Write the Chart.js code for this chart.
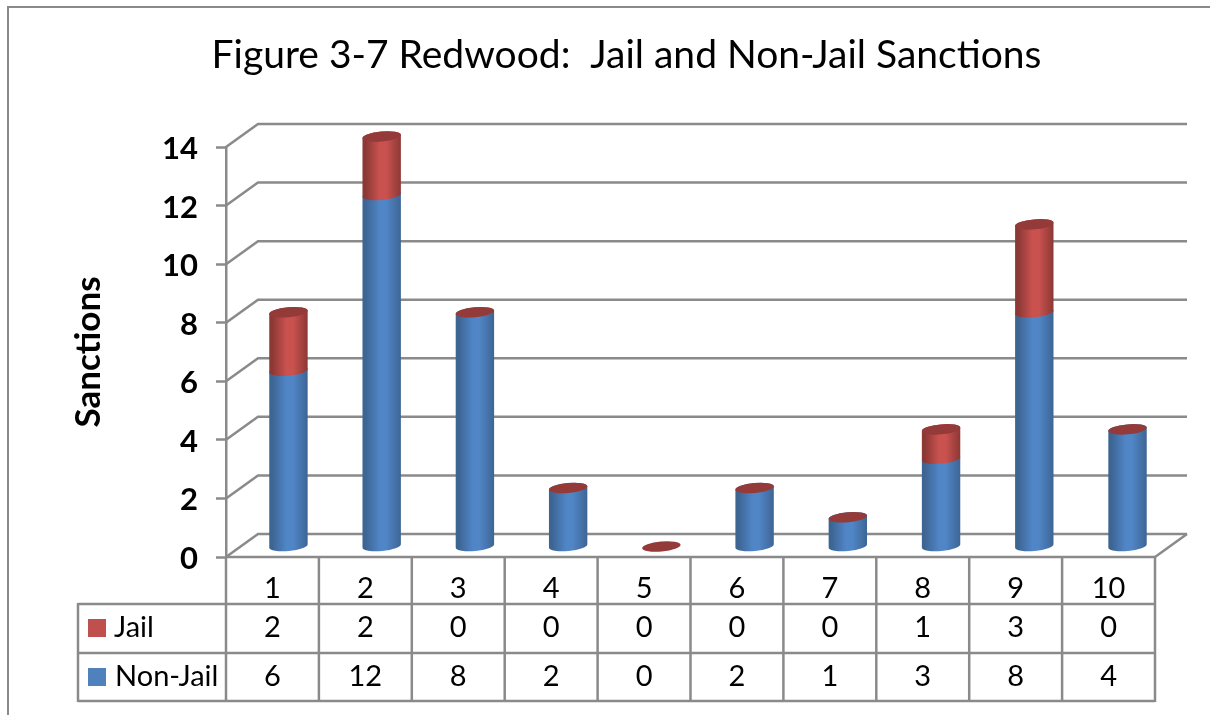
<!DOCTYPE html>
<html>
<head>
<meta charset="utf-8">
<title>Redwood sanctions</title>
<script src="https://cdn.jsdelivr.net/npm/chart.js@4/dist/chart.umd.min.js"></script>
<style>
  html, body { margin: 0; padding: 0; background: #fff; overflow: hidden; }
  canvas { display: block; }
</style>
</head>
<body>
<canvas id="sanctionsChart" width="1210" height="715"></canvas>
<script>
const categories = ['1', '2', '3', '4', '5', '6', '7', '8', '9', '10'];
const nonJail = [6, 12, 8, 2, 0, 2, 1, 3, 8, 4];
const jail = [2, 2, 0, 0, 0, 0, 0, 1, 3, 0];
const yTicks = [0, 2, 4, 6, 8, 10, 12, 14];

const LINE = '#8a8a8a';
const LINE_WIDTH = 2.5;
const FONT = 'Lato, "Noto Sans", sans-serif';

// depth of the floor and side wall
const DEPTH_X = 32;
const DEPTH_Y = -23;

// where the cylinders stand on the floor
const BAR_SHIFT_X = 16;
const BAR_SHIFT_Y = -10.5;
const BAR_DRIFT_X = 0.33;

// shading of the two cylinder colours, edge to centre
const SHADES = {
    'Non-Jail': { edge: '#3d6594', mid: '#5085c6' },
    'Jail': { edge: '#8c3835', mid: '#c9524f' }
};
const CAP_COLOR = '#943a38';
const CAP_TILT = -0.09;
const CAP_RY = 5;

function strokeLine(ctx, x1, y1, x2, y2) {
    ctx.beginPath();
    ctx.moveTo(x1, y1);
    ctx.lineTo(x2, y2);
    ctx.stroke();
}

// outer frame of the chart, only top and left are visible
const framePlugin = {
    id: 'frame',
    beforeDraw(chart) {
        const ctx = chart.ctx;
        ctx.save();
        ctx.fillStyle = '#fff';
        ctx.fillRect(0, 0, chart.width, chart.height);
        ctx.strokeStyle = LINE;
        ctx.lineWidth = 2;
        strokeLine(ctx, 8, 715, 8, 7);
        strokeLine(ctx, 7, 7, 1210, 7);
        ctx.restore();
    }
};

// the title is centred on the whole frame, not on the plot and its margin
const titleCentrePlugin = {
    id: 'titleCentre',
    afterLayout(chart) {
        chart.titleBlock.left = 43;
        chart.titleBlock.right = chart.width;
    }
};

// back wall, side wall and floor lines
const wallsPlugin = {
    id: 'walls',
    beforeDatasetsDraw(chart) {
        const ctx = chart.ctx;
        const { left, right, bottom } = chart.chartArea;
        const y = chart.scales.y;
        ctx.save();
        ctx.strokeStyle = LINE;
        ctx.lineWidth = LINE_WIDTH;
        yTicks.forEach(v => {
            const py = y.getPixelForValue(v);
            ctx.beginPath();
            ctx.moveTo(left, py);
            ctx.lineTo(left + DEPTH_X, py + DEPTH_Y);
            ctx.lineTo(right + DEPTH_X, py + DEPTH_Y);
            ctx.stroke();
        });
        strokeLine(ctx, left, bottom, right, bottom);
        strokeLine(ctx, right, bottom, right + DEPTH_X, bottom + DEPTH_Y);
        ctx.restore();
    }
};

// data table under the x axis, with the legend keys in its first column
const tablePlugin = {
    id: 'dataTable',
    afterDraw(chart) {
        const ctx = chart.ctx;
        const x = chart.scales.x;
        const { left, right, bottom } = chart.chartArea;
        const rowTops = [604, 653, 701];
        const tableLeft = 78;
        const step = (right - left) / categories.length;
        ctx.save();
        ctx.strokeStyle = LINE;
        ctx.lineWidth = LINE_WIDTH;
        rowTops.forEach(py => strokeLine(ctx, tableLeft, py, right, py));
        strokeLine(ctx, tableLeft, rowTops[0] - 1, tableLeft, rowTops[2] + 1);
        for (let i = 0; i <= categories.length; i++) {
            strokeLine(ctx, left + i * step, bottom, left + i * step, rowTops[2] + 1);
        }

        const rows = [
            { dataset: chart.data.datasets[1], values: jail, y: 628, textX: 114 },
            { dataset: chart.data.datasets[0], values: nonJail, y: 677, textX: 115 }
        ];
        ctx.font = '29px ' + FONT;
        ctx.fillStyle = '#000';
        ctx.textBaseline = 'middle';
        rows.forEach(row => {
            ctx.fillStyle = row.dataset.backgroundColor;
            ctx.fillRect(88, row.y - 9, 18, 18);
            ctx.fillStyle = '#000';
            ctx.textAlign = 'left';
            ctx.fillText(row.dataset.label, row.textX, row.y);
            ctx.textAlign = 'center';
            row.values.forEach((v, i) => ctx.fillText(String(v), x.getPixelForTick(i), row.y));
        });
        ctx.restore();
    }
};

// body of one cylinder between two value pixels, shifted back onto the floor
function drawCylinder(ctx, bar, i, shade) {
    const cx = bar.x + BAR_SHIFT_X + i * BAR_DRIFT_X;
    const rx = bar.width / 2;
    const top = bar.y + BAR_SHIFT_Y;
    const bottom = bar.base + BAR_SHIFT_Y;
    if (bottom - top < 0.5) return;
    const grad = ctx.createLinearGradient(cx - rx, 0, cx + rx, 0);
    grad.addColorStop(0, shade.edge);
    grad.addColorStop(0.08, shade.edge);
    grad.addColorStop(0.45, shade.mid);
    grad.addColorStop(0.62, shade.mid);
    grad.addColorStop(1, shade.edge);
    ctx.beginPath();
    ctx.ellipse(cx, bottom, rx, CAP_RY, CAP_TILT, 0, Math.PI);
    ctx.ellipse(cx, top, rx, CAP_RY, CAP_TILT, Math.PI, Math.PI * 2);
    ctx.closePath();
    ctx.fillStyle = grad;
    ctx.fill();
}

function drawCap(ctx, bar, i) {
    ctx.beginPath();
    ctx.ellipse(bar.x + BAR_SHIFT_X + i * BAR_DRIFT_X, bar.y + BAR_SHIFT_Y, bar.width / 2, CAP_RY, CAP_TILT, 0, Math.PI * 2);
    ctx.fillStyle = CAP_COLOR;
    ctx.fill();
}

// replaces the flat bars with cylinders placed by the bar elements
const cylinderPlugin = {
    id: 'cylinders',
    beforeDatasetsDraw(chart) {
        const ctx = chart.ctx;
        ctx.save();
        chart.data.datasets.forEach((ds, d) => {
            chart.getDatasetMeta(d).data.forEach((bar, i) => drawCylinder(ctx, bar, i, SHADES[ds.label]));
        });
        const last = chart.data.datasets.length - 1;
        chart.getDatasetMeta(last).data.forEach((bar, i) => drawCap(ctx, bar, i));
        ctx.restore();
        return false;
    }
};

new Chart(document.getElementById('sanctionsChart'), {
    type: 'bar',
    data: {
        labels: categories,
        datasets: [
            { label: 'Non-Jail', data: nonJail, backgroundColor: '#4f81bd', stack: 's' },
            { label: 'Jail', data: jail, backgroundColor: '#c0504d', stack: 's' }
        ]
    },
    plugins: [framePlugin, titleCentrePlugin, wallsPlugin, cylinderPlugin, tablePlugin],
    options: {
        responsive: false,
        animation: false,
        events: [],
        barPercentage: 0.415,
        categoryPercentage: 1,
        layout: { padding: { left: 43, right: 55, top: 0, bottom: 0 } },
        plugins: {
            legend: { display: false },
            tooltip: { enabled: false },
            title: {
                display: true,
                text: 'Figure 3-7 Redwood:  Jail and Non-Jail Sanctions',
                color: '#000',
                font: { family: FONT, size: 39, weight: 'normal' },
                padding: { top: 32, bottom: 68.2 }
            }
        },
        scales: {
            x: {
                stacked: true,
                grid: { display: false, drawTicks: false },
                border: { display: false },
                ticks: {
                    color: '#000',
                    font: { family: FONT, size: 29 },
                    padding: 14,
                    maxRotation: 0,
                    autoSkip: false
                },
                afterFit(scale) { scale.height = 158; }
            },
            y: {
                stacked: true,
                min: 0,
                max: 14,
                grid: {
                    drawOnChartArea: false,
                    drawTicks: true,
                    tickLength: 10,
                    tickWidth: LINE_WIDTH,
                    tickColor: LINE
                },
                border: { display: true, color: LINE, width: LINE_WIDTH },
                ticks: {
                    stepSize: 2,
                    color: '#000',
                    padding: 18,
                    labelOffset: 2,
                    font: { family: FONT, size: 31, weight: 'bold' }
                },
                title: {
                    display: true,
                    text: 'Sanctions',
                    color: '#000',
                    padding: { top: 25, bottom: 0 },
                    font: { family: FONT, size: 35, weight: 'bold' }
                },
                afterFit(scale) { scale.width = 183; }
            }
        }
    }
});
</script>
</body>
</html>
